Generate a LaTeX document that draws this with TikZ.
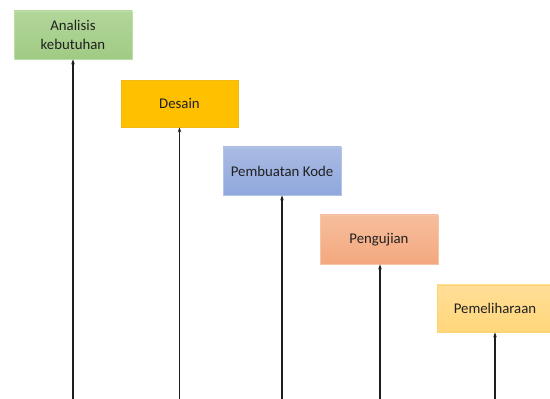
\documentclass[tikz,border=0pt]{standalone}
\usepackage{fontspec}
\setmainfont{Carlito}
\usetikzlibrary{arrows.meta}
\definecolor{txt}{HTML}{202020}
\definecolor{lnc}{HTML}{1E1E1E}
\tikzset{
  phase/.style={rectangle, minimum width=118pt, minimum height=48pt, inner sep=2pt,
    align=center, text=txt, font=\fontsize{14.8}{18.5}\selectfont, line width=0.8pt},
  flow/.style={-{Stealth[length=5pt,width=3.6pt]}, line width=1.3pt, draw=lnc}
}
\begin{document}
\begin{tikzpicture}[x=1pt,y=1pt]
\useasboundingbox (0,0) rectangle (550,399);
\fill[white] (0,0) rectangle (550,399);

\node[phase, top color={rgb,255:red,178;green,214;blue,154}, bottom color={rgb,255:red,160;green,203;blue,132}, draw={rgb,255:red,190;green,222;blue,170}]
  (n1) at (73,364) {Analisis\\kebutuhan};
\node[phase, minimum width=117pt, minimum height=47pt, fill={rgb,255:red,255;green,192;blue,0}, draw={rgb,255:red,242;green,184;blue,20}]
  (n2) at (179.5,295.5) {Desain};
\node[phase, top color={rgb,255:red,170;green,187;blue,227}, bottom color={rgb,255:red,143;green,168;blue,220}, draw={rgb,255:red,178;green,196;blue,234}]
  (n3) at (282,228) {Pembuatan Kode};
\node[phase, minimum height=49pt, top color={rgb,255:red,246;green,190;blue,157}, bottom color={rgb,255:red,244;green,168;blue,126}, draw={rgb,255:red,248;green,196;blue,168}]
  (n4) at (379,159.5) {Pengujian};
\node[phase, minimum width=116pt, minimum height=47pt, top color={rgb,255:red,255;green,222;blue,150}, bottom color={rgb,255:red,255;green,214;blue,122}, draw={rgb,255:red,255;green,212;blue,110}]
  (n5) at (495,90.5) {Pemeliharaan};

\coordinate (b1) at (73,0);
\coordinate (b2) at (179.5,0);
\coordinate (b3) at (282,0);
\coordinate (b4) at (380,0);
\coordinate (b5) at (495,0);

\draw[flow] (b1) -- (n1.south);
\draw[flow] (b2) -- (n2.south);
\draw[flow] (b3) -- (n3.south);
\draw[flow] (b4) -- (b4 |- n4.south);
\draw[flow] (b5) -- (n5.south);
\end{tikzpicture}
\end{document}
